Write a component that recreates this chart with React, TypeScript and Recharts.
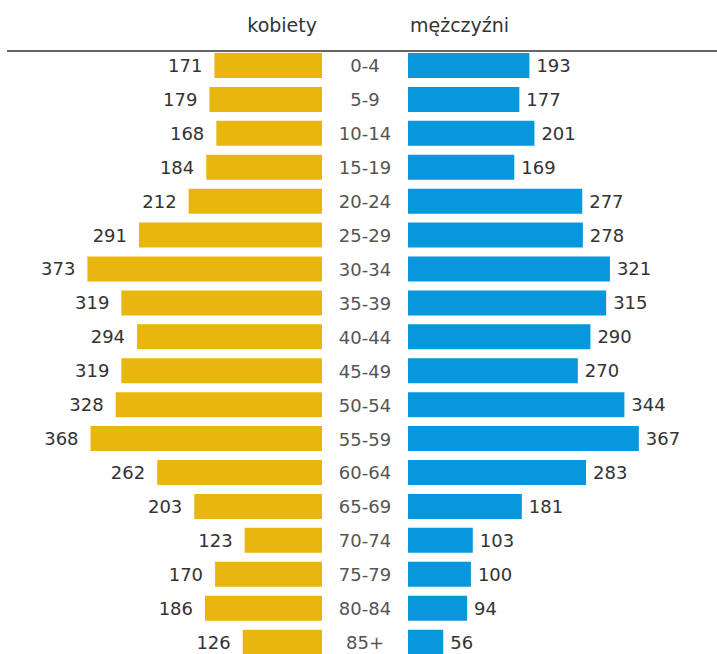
import { BarChart, Bar, XAxis, YAxis, LabelList } from 'recharts';

const ageGroups = [
  '0-4', '5-9', '10-14', '15-19', '20-24', '25-29', '30-34', '35-39', '40-44',
  '45-49', '50-54', '55-59', '60-64', '65-69', '70-74', '75-79', '80-84', '85+',
];
const women = [171, 179, 168, 184, 212, 291, 373, 319, 294, 319, 328, 368, 262, 203, 123, 170, 186, 126];
const men = [193, 177, 201, 169, 277, 278, 321, 315, 290, 270, 344, 367, 283, 181, 103, 100, 94, 56];
const headers = ['kobiety', 'mężczyźni'];

const data = ageGroups.map((age, i) => ({ age, women: women[i], men: men[i] }));

const YELLOW = '#E8B60C';
const BLUE = '#0797DC';
const FONT = '"DejaVu Sans", sans-serif';

// both halves share the same px-per-person scale
const PX_PER_UNIT = 0.629;
const TOP = 49;
const ROW = 33.92;
const CHART_H = TOP + ROW * ageGroups.length;
const LEFT_W = 322;
const RIGHT_W = 395;
const AXIS_W = 86;

const leftLabel = (props: any) => {
  const { x, y, width, height, value } = props;
  const edge = Math.min(Number(x), Number(x) + Number(width));
  return (
    <text x={edge - 12} y={Number(y) + Number(height) / 2} dy="0.36em" textAnchor="end"
      fill="#333" fontSize={18} fontFamily={FONT}>
      {value}
    </text>
  );
};

const rightLabel = (props: any) => {
  const { x, y, width, height, value } = props;
  const edge = Math.max(Number(x), Number(x) + Number(width));
  return (
    <text x={edge + 7} y={Number(y) + Number(height) / 2} dy="0.36em" textAnchor="start"
      fill="#333" fontSize={18} fontFamily={FONT}>
      {value}
    </text>
  );
};

const AgeTick = (props: any) => {
  const { y, payload } = props;
  return (
    <text x={AXIS_W / 2} y={y} dy="0.36em" textAnchor="middle" fill="#555" fontSize={18} fontFamily={FONT}>
      {payload.value}
    </text>
  );
};

export default function App() {
  return (
    <div style={{ position: 'absolute', left: 0, top: 0, width: 717, height: 654, overflow: 'hidden', background: '#fff' }}>
      <div style={{ position: 'absolute', left: 0, top: 0 }}>
        <BarChart layout="vertical" width={LEFT_W} height={CHART_H} data={data}
          margin={{ top: TOP, right: 0, bottom: 0, left: 0 }}>
          <XAxis type="number" domain={[0, LEFT_W / PX_PER_UNIT]} reversed hide />
          <YAxis type="category" dataKey="age" hide />
          <Bar dataKey="women" fill={YELLOW} barSize={25} isAnimationActive={false}>
            <LabelList dataKey="women" content={leftLabel} />
          </Bar>
        </BarChart>
      </div>
      <div style={{ position: 'absolute', left: LEFT_W, top: 0 }}>
        <BarChart layout="vertical" width={RIGHT_W} height={CHART_H} data={data}
          margin={{ top: TOP, right: 0, bottom: 0, left: 0 }}>
          <XAxis type="number" domain={[0, (RIGHT_W - AXIS_W) / PX_PER_UNIT]} hide />
          <YAxis type="category" dataKey="age" width={AXIS_W} axisLine={false} tickLine={false}
            tick={<AgeTick />} interval={0} />
          <Bar dataKey="men" fill={BLUE} barSize={25} isAnimationActive={false}>
            <LabelList dataKey="men" content={rightLabel} />
          </Bar>
        </BarChart>
      </div>
      <svg width={717} height={60} style={{ position: 'absolute', left: 0, top: 0 }}>
        <text x={317} y={32} textAnchor="end" fill="#333" fontSize={19} fontFamily={FONT}>{headers[0]}</text>
        <text x={410} y={32} textAnchor="start" fill="#333" fontSize={19} fontFamily={FONT}>{headers[1]}</text>
        <line x1={7} x2={717} y1={51} y2={51} stroke="#666" strokeWidth={2} />
      </svg>
    </div>
  );
}
